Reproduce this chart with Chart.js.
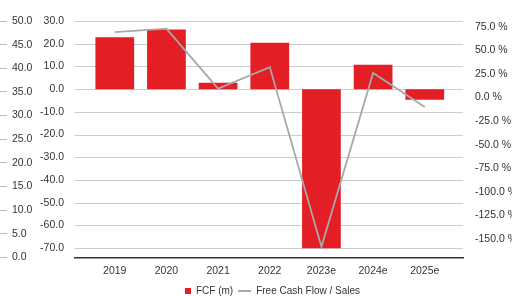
<!DOCTYPE html>
<html>
<head>
<meta charset="utf-8">
<script src="https://cdn.jsdelivr.net/npm/chart.js@4/dist/chart.umd.min.js"></script>
<style>
  body { margin: 0; background: #fff; }
  #wrap { width: 512px; height: 296px; }
</style>
</head>
<body>
<div id="wrap"><canvas id="chart"></canvas></div>
<script>
const years = ['2019', '2020', '2021', '2022', '2023e', '2024e', '2025e'];
const fcf = [22.9, 26.3, 2.8, 20.4, -70.0, 10.7, -4.7];
const fcfMargin = [69.6, 73.3, 9.5, 32.4, -158.5, 26.1, -10.1];
const fcfTicks = [30, 20, 10, 0, -10, -20, -30, -40, -50, -60, -70];
const marginTicks = [75, 50, 25, 0, -25, -50, -75, -100, -125, -150];

const textColor = '#333';
const font = { family: 'Liberation Sans, Arial, sans-serif', size: 10.5 };

// little legend icons: red square and grey dash
function icon(w, h, draw) {
    const c = document.createElement('canvas');
    c.width = w; c.height = h;
    draw(c.getContext('2d'));
    return c;
}
const boxIcon = icon(13, 6, ctx => { ctx.fillStyle = '#e31e24'; ctx.fillRect(7, 0, 6, 6); });
const lineIcon = icon(13, 2, ctx => { ctx.fillStyle = '#a8a8a8'; ctx.fillRect(0, 0, 13, 2); });

// horizontal grid lines at the FCF axis ticks (the built-in y grid would not show here)
const gridLines = {
    id: 'gridLines',
    beforeDatasetsDraw(chart) {
        const { ctx, chartArea: a, scales: { y } } = chart;
        ctx.save();
        ctx.strokeStyle = '#cccccc';
        ctx.lineWidth = 1;
        ctx.setLineDash([]);
        y.ticks.forEach(t => {
            const py = Math.round(y.getPixelForValue(t.value)) + 0.5;
            ctx.beginPath();
            ctx.moveTo(a.left, py);
            ctx.lineTo(a.right, py);
            ctx.stroke();
        });
        ctx.restore();
    }
};

const ctx = document.getElementById('chart').getContext('2d');
new Chart(ctx, {
    type: 'bar',
    plugins: [gridLines],
    data: {
        datasets: [
            {
                label: 'FCF (m)',
                data: fcf.map((v, i) => ({ x: i, y: v })),
                backgroundColor: '#e31e24',
                barPercentage: 0.75,
                categoryPercentage: 1,
                yAxisID: 'y',
                order: 1
            },
            {
                type: 'line',
                label: 'Free Cash Flow / Sales',
                data: fcfMargin.map((v, i) => ({ x: i, y: v })),
                borderColor: '#a8a8a8',
                borderWidth: 1.8,
                pointRadius: 0,
                tension: 0,
                yAxisID: 'y2',
                order: 0
            }
        ]
    },
    options: {
        responsive: true,
        maintainAspectRatio: false,
        animation: false,
        layout: { padding: { top: 21, bottom: -10, left: 0, right: 0 } },
        plugins: {
            tooltip: { enabled: false },
            legend: {
                position: 'bottom',
                fullSize: false,
                labels: {
                    usePointStyle: true,
                    pointStyleWidth: 13,
                    padding: 5,
                    font: { family: font.family, size: 10 },
                    color: textColor,
                    sort: (a, b) => a.datasetIndex - b.datasetIndex,
                    generateLabels(chart) {
                        const items = Chart.defaults.plugins.legend.labels.generateLabels(chart);
                        items.forEach(it => { it.pointStyle = it.datasetIndex === 0 ? boxIcon : lineIcon; });
                        return items;
                    }
                }
            }
        },
        scales: {
            x: {
                type: 'linear',
                offset: false,
                min: -0.77,
                max: 6.74,
                grid: { display: false, drawTicks: false, offset: false },
                border: { display: true, color: '#333', width: 1.5 },
                ticks: { padding: 7, font: font, color: textColor, maxRotation: 0, callback: v => years[v] },
                afterBuildTicks: s => { s.ticks = years.map((_, i) => ({ value: i })); },
                afterFit: s => { s.height = 23.5; }
            },
            y: {
                position: 'left',
                weight: 0,
                min: -74.1,
                max: 30,
                grid: { display: false },
                border: { display: false },
                ticks: { padding: 3, font: font, color: textColor, callback: v => v.toFixed(1) },
                afterBuildTicks: s => { s.ticks = fcfTicks.map(v => ({ value: v })); },
                afterFit: s => { s.width = 68; }
            },
            y3: {
                position: 'left',
                weight: 1,
                min: 0,
                max: 50,
                grid: { drawOnChartArea: false, tickLength: 7, color: '#bbb' },
                border: { display: false },
                ticks: { stepSize: 5, mirror: true, padding: 5, font: font, color: textColor, callback: v => v.toFixed(1) },
                afterFit: s => { s.width = 7; }
            },
            y2: {
                position: 'right',
                min: -170,
                max: 81.4,
                grid: { display: false },
                border: { display: false },
                ticks: { padding: 4, font: font, color: textColor, callback: v => v.toFixed(1) + ' %' },
                afterBuildTicks: s => { s.ticks = marginTicks.map(v => ({ value: v })); },
                afterFit: s => { s.width = 49; }
            }
        }
    }
});
</script>
</body>
</html>
